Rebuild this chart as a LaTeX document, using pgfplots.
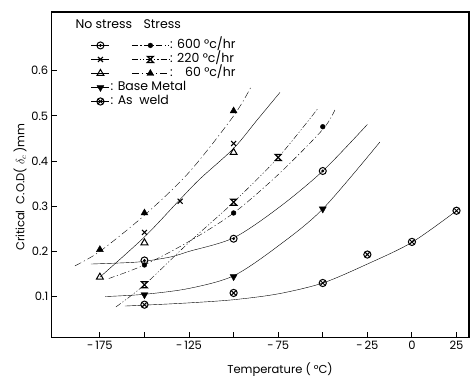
\documentclass[border=0pt]{standalone}
\usepackage{fontspec}
\setmainfont{Poppins}
\usepackage{pgfplots}
\pgfplotsset{compat=1.18}

\pgfdeclareplotmark{bullseye}{%
  \pgfpathcircle{\pgfpointorigin}{\pgfplotmarksize}\pgfusepathqstroke
  \pgfpathcircle{\pgfpointorigin}{0.45\pgfplotmarksize}\pgfusepathqfill}
\pgfdeclareplotmark{ocross}{%
  \pgfpathcircle{\pgfpointorigin}{\pgfplotmarksize}\pgfusepathqstroke
  \pgfpathmoveto{\pgfpoint{-0.62\pgfplotmarksize}{-0.62\pgfplotmarksize}}%
  \pgfpathlineto{\pgfpoint{0.62\pgfplotmarksize}{0.62\pgfplotmarksize}}%
  \pgfpathmoveto{\pgfpoint{-0.62\pgfplotmarksize}{0.62\pgfplotmarksize}}%
  \pgfpathlineto{\pgfpoint{0.62\pgfplotmarksize}{-0.62\pgfplotmarksize}}%
  \pgfusepathqstroke}
\pgfdeclareplotmark{hglass}{%
  \pgfpathmoveto{\pgfpoint{-\pgfplotmarksize}{\pgfplotmarksize}}%
  \pgfpathlineto{\pgfpoint{\pgfplotmarksize}{\pgfplotmarksize}}%
  \pgfpathlineto{\pgfpoint{-\pgfplotmarksize}{-\pgfplotmarksize}}%
  \pgfpathlineto{\pgfpoint{\pgfplotmarksize}{-\pgfplotmarksize}}%
  \pgfpathclose
  \pgfusepathqstroke}

\pgfplotsset{
  shortleg/.style={legend image code/.code={%
      \draw[mark repeat=2,mark phase=2,##1] plot coordinates {(0pt,0pt)(9pt,0pt)(18pt,0pt)};}},
  longleg/.style={legend image code/.code={%
      \draw[mark repeat=2,mark phase=2,##1] plot coordinates {(0pt,0pt)(18.5pt,0pt)(37pt,0pt)};}},
  m600ns/.style={mark=bullseye, mark size=3.5pt, mark options={solid,line width=1pt}},
  m600s/.style={mark=*, mark size=2.4pt, mark options={solid}},
  m220ns/.style={mark=x, mark size=3.5pt, mark options={solid,line width=1.1pt}},
  m220s/.style={mark=hglass, mark size=3pt, mark options={solid,line width=1.2pt}},
  m60ns/.style={mark=triangle, mark size=4pt, mark options={solid,line width=1pt}},
  m60s/.style={mark=triangle*, mark size=4pt, mark options={solid}},
  mbase/.style={mark=triangle*, mark size=4pt, mark options={solid,rotate=180}},
  mweld/.style={mark=ocross, mark size=3.6pt, mark options={solid,line width=1pt}},
  l600s/.style={dash pattern=on 6pt off 2.5pt on 1.2pt off 2.5pt},
  l220s/.style={dash pattern=on 6pt off 2pt on 1.2pt off 2pt on 1.2pt off 2pt},
  l60s/.style={dash pattern=on 7pt off 3pt on 1.2pt off 3pt},
}

\begin{document}
\begin{tikzpicture}[font=\fontsize{11.5}{13}\selectfont]
\begin{axis}[
  scale only axis, width=417pt, height=325pt,
  xmin=-202, xmax=32, ymin=0.01, ymax=0.73,
  axis line style={line width=1.1pt},
  tick style={line width=0.9pt, black},
  major tick length=5pt,
  tick pos=left, tick align=inside,
  xtick={-175,-150,-125,-100,-75,-50,-25,0,25},
  xticklabels={-\,175,,-\,125,,-\,75,,-\,25,0,25},
  ytick={0.1,0.2,0.3,0.4,0.5,0.6},
  yticklabels={0.1,0.2,0.3,0.4,0.5,0.6},
  xlabel={Temperature ( °C)},
  ylabel={Critical \ C.O.D( $\delta_c$ )mm},
  xlabel style={at={(axis description cs:0.547,-0.1)}, anchor=center},
  ylabel style={at={(axis description cs:-0.076,0.4615)}, anchor=center},
  every plot/.append style={black, line width=0.9pt},
  legend columns=2,
  legend cell align=left,
  legend style={draw=none, fill=none, at={(rel axis cs:0.0942,0.917)}, anchor=north west,
    inner sep=0pt, row sep=1.5pt,
    nodes={inner sep=1pt, text height=8pt, text depth=2.5pt},
    font=\fontsize{12.5}{14}\selectfont,
    /tikz/column 2/.style={column sep=20pt}},
]
% ---- curves ----
\addplot[forget plot, smooth, no markers] coordinates {(-180,0.172)(-160,0.175)(-150,0.178)(-135,0.188)(-125,0.200)(-100,0.230)(-75,0.296)(-50,0.378)(-25,0.481)};
\addplot[forget plot, smooth, no markers, l600s] coordinates {(-170,0.140)(-150,0.170)(-125,0.222)(-100,0.285)(-75,0.370)(-50,0.470)(-43,0.515)};
\addplot[forget plot, smooth, no markers, l220s] coordinates {(-166,0.077)(-150,0.126)(-125,0.220)(-100,0.309)(-75,0.408)(-53,0.515)};
\addplot[forget plot, smooth, no markers] coordinates {(-175,0.143)(-150,0.232)(-131,0.311)(-119,0.360)(-100,0.428)(-87,0.490)(-74,0.552)};
\addplot[forget plot, smooth, no markers, l60s] coordinates {(-189,0.168)(-175,0.200)(-150,0.280)(-125,0.375)(-100,0.500)(-90,0.566)};
\addplot[forget plot, smooth, no markers] coordinates {(-172,0.100)(-150,0.105)(-125,0.118)(-100,0.146)(-75,0.212)(-50,0.294)(-18,0.442)};
\addplot[forget plot, smooth, no markers] coordinates {(-161,0.079)(-150,0.081)(-125,0.086)(-100,0.093)(-75,0.106)(-50,0.130)(-25,0.172)(0,0.220)(25,0.290)};
% ---- points ----
\addplot[forget plot, only marks, m600ns] coordinates {(-150,0.180)(-100,0.228)(-50,0.378)};
\addplot[forget plot, only marks, m600s] coordinates {(-150,0.170)(-100,0.285)(-50,0.476)};
\addplot[forget plot, only marks, m220ns] coordinates {(-150,0.242)(-130,0.311)(-100,0.439)};
\addplot[forget plot, only marks, m220s] coordinates {(-150,0.126)(-100,0.309)(-75,0.408)};
\addplot[forget plot, only marks, m60ns] coordinates {(-175,0.143)(-150,0.219)(-100,0.419)};
\addplot[forget plot, only marks, m60s] coordinates {(-175,0.204)(-150,0.285)(-100,0.511)};
\addplot[forget plot, only marks, mbase] coordinates {(-150,0.104)(-100,0.144)(-50,0.294)};
\addplot[forget plot, only marks, mweld] coordinates {(-150,0.082)(-100,0.108)(-50,0.130)(-25,0.193)(0,0.221)(25,0.290)};
% ---- legend ----
\addlegendimage{shortleg, solid, m600ns}\addlegendentry{}
\addlegendimage{longleg, l600s, m600s}\addlegendentry{: 600 °c/hr}
\addlegendimage{shortleg, solid, m220ns}\addlegendentry{}
\addlegendimage{longleg, l220s, m220s}\addlegendentry{: 220 °c/hr}
\addlegendimage{shortleg, solid, m60ns}\addlegendentry{}
\addlegendimage{longleg, l60s, m60s}\addlegendentry{: \phantom{6}60 °c/hr}
\addlegendimage{shortleg, solid, mbase}\addlegendentry{\rlap{: Base Metal}}
\addlegendimage{empty legend}\addlegendentry{}
\addlegendimage{shortleg, solid, mweld}\addlegendentry{\rlap{: As \ weld}}
\addlegendimage{empty legend}\addlegendentry{}
\node[anchor=base west, font=\fontsize{12.5}{14}\selectfont] at (rel axis cs:0.0486,0.948) {No stress};
\node[anchor=base west, font=\fontsize{12.5}{14}\selectfont] at (rel axis cs:0.2116,0.948) {Stress};
\end{axis}
\pgfresetboundingbox
\path ([shift={(-51.7pt,-44pt)}]current axis.south west) rectangle ([shift={(3pt,12pt)}]current axis.north east);
\end{tikzpicture}
\end{document}
